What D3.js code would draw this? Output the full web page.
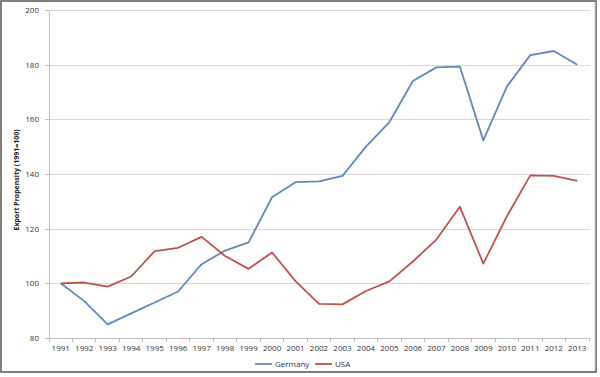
<!DOCTYPE html>
<html lang="en">
<head>
  <meta charset="UTF-8">
  <title>Export Propensity</title>
  <script src="https://d3js.org/d3.v7.min.js"></script>
  <style>
    body { margin: 0; background: #fff; }
    .axis text { font-family: "Open Sans", sans-serif; font-size: 8px; fill: #333; }
    .axis path, .axis line { stroke: #bfbfbf; shape-rendering: crispEdges; }
    .grid line { stroke: #d9d9d9; shape-rendering: crispEdges; }
    .grid path { display: none; }
    .legend text { font-family: "Open Sans", sans-serif; font-size: 8px; fill: #333; }
  </style>
</head>
<body>
<div id="app"></div>
<script>
  var years = ["1991","1992","1993","1994","1995","1996","1997","1998","1999","2000","2001","2002",
               "2003","2004","2005","2006","2007","2008","2009","2010","2011","2012","2013"];
  var germany = [100, 93.5, 85, 89, 93, 97, 107, 112, 115, 131.5, 137, 137.3,
                 139.3, 150, 159, 174, 179, 179.3, 152.3, 172, 183.5, 185, 180];
  var usa = [100, 100.3, 98.8, 102.5, 111.8, 113, 117, 110, 105.3, 111.3, 100.8, 92.5,
             92.3, 97.2, 100.7, 108, 116, 128, 107.2, 124.5, 139.5, 139.3, 137.5];
  var yTicks = [80, 100, 120, 140, 160, 180, 200];
  var seriesNames = ["Germany", "USA"];
  var colors = ["#6088bd", "#c2514e"];

  var width = 600, height = 377;

  var svg = d3.select("#app").append("svg")
    .attr("width", width)
    .attr("height", height);

  // frame
  svg.append("rect")
    .attr("x", 1).attr("y", 1)
    .attr("width", 595).attr("height", 371)
    .style("fill", "#fff")
    .style("stroke", "#555")
    .style("stroke-width", 1.5);
  svg.append("line")
    .attr("x1", 595).attr("x2", 595).attr("y1", 2).attr("y2", 371)
    .style("stroke", "#ccc");

  var x = d3.scaleBand()
    .domain(years)
    .range([49, 589]);

  var y = d3.scaleLinear()
    .domain([80, 200])
    .range([338, 10]);

  // horizontal gridlines
  svg.append("g")
    .attr("class", "grid")
    .attr("transform", "translate(49,0)")
    .call(d3.axisLeft(y).tickValues(yTicks).tickSize(-541).tickFormat(""));

  // y axis
  svg.append("g")
    .attr("class", "axis")
    .attr("transform", "translate(49,0)")
    .call(d3.axisLeft(y).tickValues(yTicks).tickSize(4).tickPadding(6));

  // x axis, ticks between categories
  var xAxis = svg.append("g")
    .attr("class", "axis")
    .attr("transform", "translate(0,338)")
    .call(d3.axisBottom(x).tickSize(0).tickPadding(7));
  xAxis.selectAll(".sep")
    .data(years.concat(["end"]))
    .enter().append("line")
    .attr("class", "sep")
    .attr("x1", function (d, i) { return 49 + i * x.step(); })
    .attr("x2", function (d, i) { return 49 + i * x.step(); })
    .attr("y1", 0).attr("y2", 4);

  // axis title
  svg.append("text")
    .attr("transform", "translate(19,180) rotate(-90)")
    .attr("text-anchor", "middle")
    .style("font-family", "'Open Sans', sans-serif")
    .style("font-size", "7px")
    .style("font-weight", "bold")
    .style("fill", "#222")
    .text("Export Propensity (1991=100)");

  var line = d3.line()
    .x(function (d, i) { return x(years[i]) + x.bandwidth() / 2; })
    .y(function (d) { return y(d); });

  [germany, usa].forEach(function (s, i) {
    svg.append("path")
      .attr("d", line(s))
      .attr("fill", "none")
      .attr("stroke", colors[i])
      .attr("stroke-width", 1.8)
      .attr("stroke-linejoin", "round");
  });

  // legend
  var legend = svg.append("g").attr("class", "legend");
  var lx = [255, 315];
  seriesNames.forEach(function (name, i) {
    legend.append("line")
      .attr("x1", lx[i]).attr("x2", lx[i] + 17)
      .attr("y1", 364).attr("y2", 364)
      .attr("stroke", colors[i])
      .attr("stroke-width", 1.8);
    legend.append("text")
      .attr("x", lx[i] + 20).attr("y", 367)
      .text(name);
  });
</script>
</body>
</html>
